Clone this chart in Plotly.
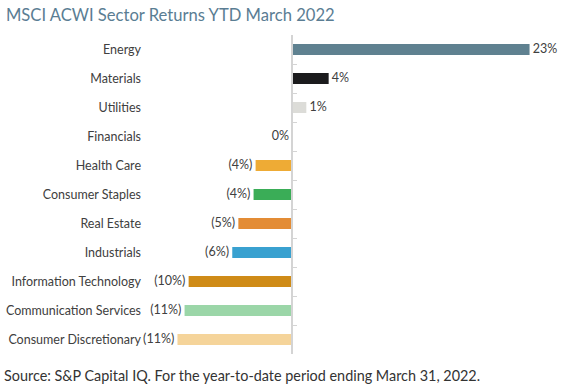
import math
import plotly.graph_objects as go

sectors = ["Energy", "Materials", "Utilities", "Financials", "Health Care",
           "Consumer Staples", "Real Estate", "Industrials",
           "Information Technology", "Communication Services", "Consumer Discretionary"]
returns = [23.4, 3.6, 1.4, 0.0, -3.6, -3.8, -5.3, -5.9, -10.2, -10.6, -11.3]
colors = ["#5f8190", "#1b1b1d", "#dcdcd8", "#ffffff", "#eeab35", "#3aad57",
          "#e38c35", "#39a1d0", "#cf8b17", "#9bd6a8", "#f5d49a"]

def fmt(v):
    r = int(math.floor(abs(v) + 0.5))
    if r == 0:
        return "0%\u00a0"
    return f"\u00a0{r}%" if v > 0 else f"({r}%)\u00a0"

labels = [fmt(v) for v in returns]
xmin, xmax = -14.5, 26.4
FONT = "Lato"
TXT = "#404040"

fig = go.Figure()
fig.add_trace(go.Bar(
    x=returns, y=sectors, orientation="h", marker=dict(color=colors, line_width=0),
    width=0.38, hoverinfo="skip", showlegend=False))
fig.add_trace(go.Scatter(
    x=returns, y=sectors, mode="text", text=labels,
    textposition=["middle right" if v > 0 else "middle left" for v in returns],
    textfont=dict(family=FONT, size=12.5, color=TXT),
    hoverinfo="skip", showlegend=False, cliponaxis=False))
# invisible trace for the zero axis with boundary ticks
fig.add_trace(go.Scatter(x=[0] * len(sectors), y=sectors, yaxis="y2", mode="markers",
                         marker=dict(opacity=0), hoverinfo="skip", showlegend=False))

pos = (0 - xmin) / (xmax - xmin)
fig.update_layout(
    width=566, height=390,
    margin=dict(l=145, r=6, t=35, b=36),
    paper_bgcolor="white", plot_bgcolor="white",
    font=dict(family=FONT, color=TXT),
    title=dict(text="MSCI ACWI Sector Returns YTD March 2022", x=0.0105, xanchor="left",
               y=0.962, yanchor="middle",
               font=dict(family=FONT, size=16.6, color="#5a7d93")),
    xaxis=dict(range=[xmin, xmax], visible=False, domain=[0, 1], automargin=False),
    yaxis=dict(type="category", categoryarray=sectors[::-1], categoryorder="array",
               showline=False, ticks="", showgrid=False, ticklabelstandoff=3,
               automargin=False,
               tickfont=dict(family=FONT, size=12.5, color=TXT),
               range=[-0.5, len(sectors) - 0.5]),
    yaxis2=dict(type="category", categoryarray=sectors[::-1], categoryorder="array",
                overlaying="y", anchor="free", position=pos, side="left",
                showline=True, linecolor="#d4d4d4", linewidth=2, automargin=False,
                ticks="inside", ticklen=4, tickcolor="#d4d4d4", tickwidth=1,
                tickson="boundaries", showticklabels=False, showgrid=False,
                range=[-0.5, len(sectors) - 0.5]),
    annotations=[dict(text="Source: S&P Capital IQ. For the year-to-date period ending March 31, 2022.",
                      xref="paper", yref="paper", x=-143 / 415, y=-21 / 319,
                      xanchor="left", yanchor="middle", showarrow=False,
                      font=dict(family=FONT, size=14.4, color="#333333"))],
)
fig.write_html("out.html", config={"displayModeBar": False},
               post_script="document.body.style.margin='0px';")
